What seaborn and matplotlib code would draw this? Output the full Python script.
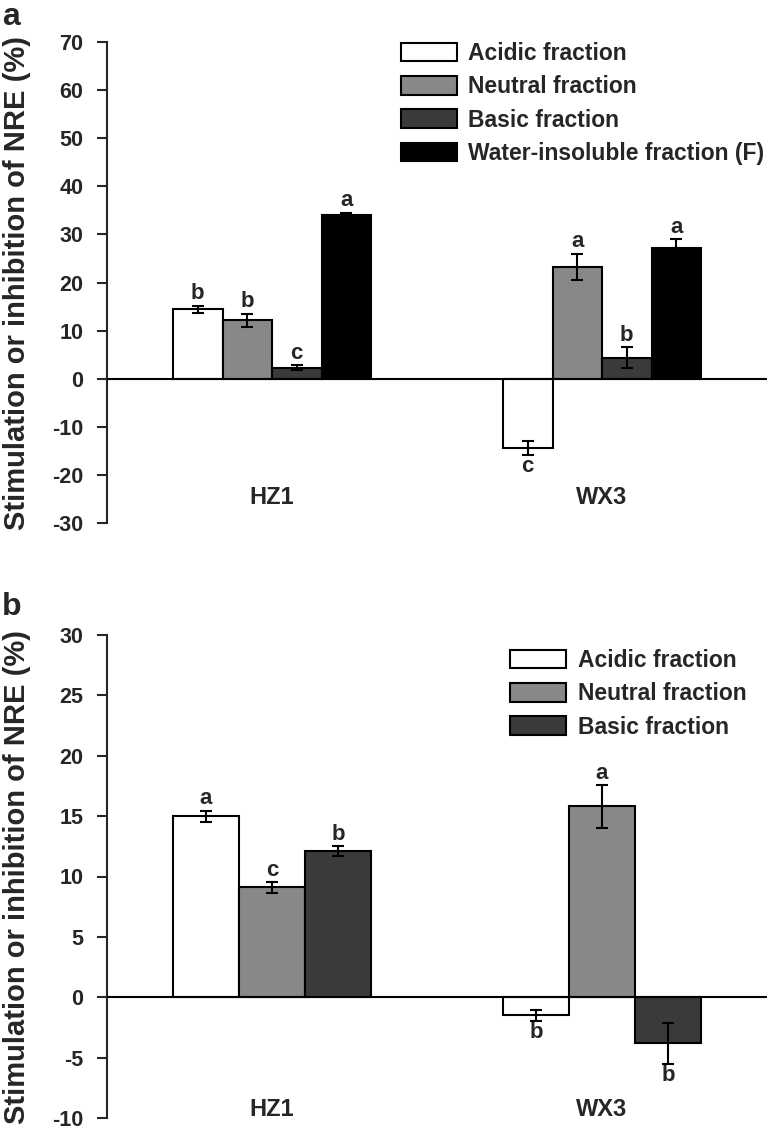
import numpy as np
import pandas as pd
import matplotlib
matplotlib.use('Agg')
import matplotlib.pyplot as plt
import seaborn as sns

# ---- data ----
sites = ['HZ1', 'WX3']
fractions_a = ['Acidic fraction', 'Neutral fraction', 'Basic fraction',
               'Water-insoluble fraction (F)']
fractions_b = ['Acidic fraction', 'Neutral fraction', 'Basic fraction']
fill_colors = ['white', '#888888', '#3a3a3a', 'black']

# rows = fraction, columns = site (HZ1, WX3)
mean_a = [[14.4, -14.4], [12.1, 23.3], [2.3, 4.4], [34.0, 27.1]]
err_a = [[0.75, 1.4], [1.4, 2.7], [0.45, 2.1], [0.55, 1.9]]
sig_a = [['b', 'c'], ['b', 'a'], ['c', 'b'], ['a', 'a']]

mean_b = [[15.0, -1.5], [9.1, 15.8], [12.1, -3.8]]
err_b = [[0.45, 0.45], [0.45, 1.75], [0.4, 1.7]]
sig_b = [['a', 'b'], ['c', 'a'], ['b', 'b']]

sns.set_style('ticks')
plt.rcParams['font.family'] = ['Liberation Sans', 'DejaVu Sans']
plt.rcParams['font.weight'] = 'bold'
plt.rcParams['axes.labelweight'] = 'bold'
plt.rcParams['axes.unicode_minus'] = False


def draw_panel(ax, fractions, mean, err, sig, ylim, yticks, leg_anchor, cat_y):
    df = pd.DataFrame([{'site': s, 'fraction': f, 'value': mean[i][j]}
                       for i, f in enumerate(fractions)
                       for j, s in enumerate(sites)])
    sns.barplot(data=df, x='site', y='value', hue='fraction', order=sites,
                hue_order=fractions, palette=fill_colors[:len(fractions)],
                saturation=1, width=0.6, edgecolor='black', linewidth=1.5,
                errorbar=None, ax=ax)

    bar_groups = list(ax.containers)
    for i, cont in enumerate(bar_groups):
        for j, bar in enumerate(cont):
            x = bar.get_x() + bar.get_width() / 2
            y = bar.get_height()
            e = err[i][j]
            ax.errorbar(x, y, yerr=e, color='black', capsize=4,
                        elinewidth=1.5, capthick=1.5, zorder=5)
            if y >= 0:
                ax.annotate(sig[i][j], (x, y + e), xytext=(0, 1),
                            textcoords='offset points', ha='center',
                            va='bottom', fontsize=16)
            else:
                ax.annotate(sig[i][j], (x, y - e), xytext=(0, -1),
                            textcoords='offset points', ha='center',
                            va='top', fontsize=16)

    ax.axhline(0, color='black', lw=1.5, zorder=4)
    ax.set_ylim(*ylim)
    ax.set_xlim(-0.5, 1.5)
    ax.set_yticks(yticks)
    ax.tick_params(axis='y', length=7, width=1.5, pad=10, labelsize=15.5)
    ax.tick_params(axis='x', length=0, labelbottom=False)
    for k, s in enumerate(sites):
        ax.text(k, cat_y, s, transform=ax.get_xaxis_transform(),
                ha='center', va='center', fontsize=17)

    sns.despine(ax=ax, top=True, right=True, bottom=True)
    ax.spines['left'].set_linewidth(1.5)
    ax.set_xlabel('')
    ax.set_ylabel('Stimulation or inhibition of NRE (%)', fontsize=21)
    ax.yaxis.set_label_coords(-0.115, 0.5)

    handles, labels = ax.get_legend_handles_labels()
    ax.legend(handles[:len(fractions)], labels[:len(fractions)],
              loc='upper left', bbox_to_anchor=leg_anchor,
              frameon=False, prop={'size': 16.5, 'weight': 'bold'},
              handlelength=2.45, handleheight=0.87, handletextpad=0.5,
              labelspacing=0.45, borderaxespad=0, borderpad=0)


fig = plt.figure(figsize=(7.74, 11.28), dpi=100)
W, H = 774, 1128
ax_a = fig.add_axes([107 / W, 1 - 523 / H, 660 / W, 481 / H])
ax_b = fig.add_axes([107 / W, 1 - 1118 / H, 660 / W, 483 / H])

draw_panel(ax_a, fractions_a, mean_a, err_a, sig_a, (-30, 70),
           range(-30, 71, 10), (0.445, 1.0), 0.052)
draw_panel(ax_b, fractions_b, mean_b, err_b, sig_b, (-10, 30),
           range(-10, 31, 5), (0.611, 0.971), 0.017)

fig.text(2 / W, 1 - 25 / H, 'a', fontsize=23, va='baseline', ha='left')
fig.text(2 / W, 1 - 615 / H, 'b', fontsize=23, va='baseline', ha='left')

fig.savefig('out.png', dpi=100)
plt.close(fig)
